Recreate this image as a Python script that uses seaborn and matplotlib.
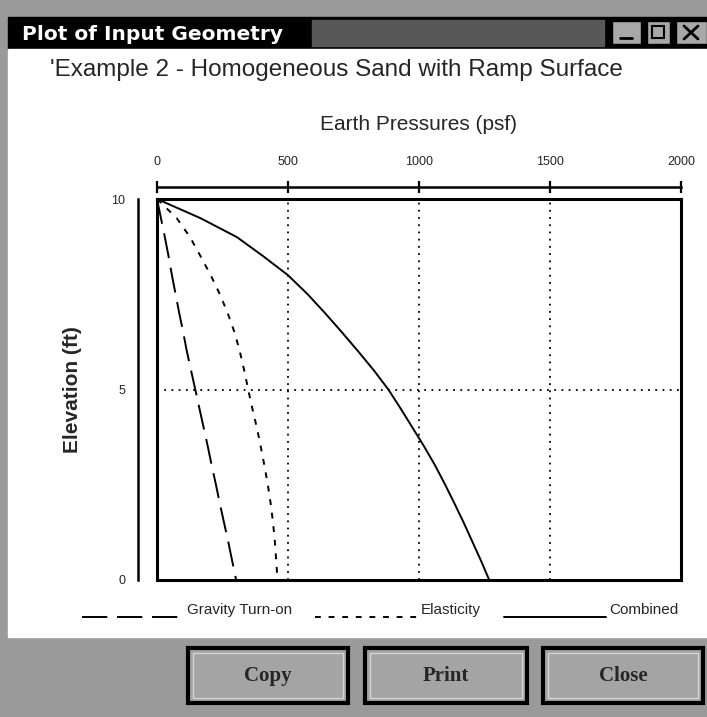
import pandas as pd
import matplotlib.pyplot as plt
from matplotlib.patches import Rectangle
import seaborn as sns

# values: elevation (ft) vs earth pressure (psf)
elevation = [10, 9.5, 9, 8.5, 8, 7.5, 7, 6.5, 6, 5.5, 5, 4.5, 4, 3.5, 3, 2.5, 2, 1.5, 1, 0.5, 0]
gravity = [0, 15, 30, 44, 57, 71, 85, 100, 114, 130, 146, 162, 178, 194, 209, 225, 240, 256, 272, 287, 302]
elasticity = [0, 75, 126, 166, 205, 240, 270, 296, 316, 333, 348, 364, 381, 396, 410, 423, 434, 443, 450, 455, 460]
combined = [0, 165, 305, 405, 500, 575, 642, 706, 768, 828, 883, 930, 975, 1020, 1062, 1100, 1136, 1171, 1204, 1237, 1268]
series_names = ['Gravity Turn-on', 'Elasticity', 'Combined']
x_ticks = [0, 500, 1000, 1500, 2000]
y_ticks = [0, 5, 10]
grid_x = [500, 1000, 1500]
grid_y = [5]
button_names = ['Copy', 'Print', 'Close']

sns.set_style('white')
plt.rcParams['font.family'] = ['Liberation Sans', 'DejaVu Sans']

W, H = 707, 717
fig = plt.figure(figsize=(W / 100, H / 100), dpi=100)


def box(l, t, r, b):
    return [l / W, 1 - b / H, (r - l) / W, (b - t) / H]


# window frame, drawn in pixel coordinates
bg = fig.add_axes([0, 0, 1, 1])
bg.set_xlim(0, W)
bg.set_ylim(H, 0)
bg.axis('off')
bg.add_patch(Rectangle((0, 0), W, H, color='#9a9a9a'))
bg.add_patch(Rectangle((8, 17), W - 8, 32, color='black'))
bg.add_patch(Rectangle((312, 20), 292, 26, color='#585858'))
bg.add_patch(Rectangle((8, 49), W - 8, 588, color='white'))
bg.text(22, 34, 'Plot of Input Geometry', color='white', fontsize=14.5,
        fontweight='bold', family='DejaVu Sans', va='center')

# title bar controls
for l, r in [(612, 641), (647, 670), (676, 707)]:
    bg.add_patch(Rectangle((l, 21), r - l, 23, facecolor='#a8a8a8', edgecolor='black', lw=1))
bg.plot([620, 632], [38, 38], color='black', lw=2)
bg.add_patch(Rectangle((652, 26), 12, 12, fill=False, edgecolor='black', lw=1.5))
bg.plot([684, 698], [26, 39], color='black', lw=2)
bg.plot([684, 698], [39, 26], color='black', lw=2)

# buttons
for name, (l, r) in zip(button_names, [(188, 348), (365, 527), (543, 703)]):
    bg.add_patch(Rectangle((l, 648), r - l, 55, facecolor='#a4a4a4', edgecolor='black', lw=3))
    bg.add_patch(Rectangle((l + 5, 653), r - l - 10, 45, fill=False, edgecolor='#d4d4d4', lw=1))
    bg.text((l + r) / 2, 676, name, fontsize=15, fontweight='bold', family='Liberation Serif',
            ha='center', va='center')

bg.text(50, 76, "'Example 2 - Homogeneous Sand with Ramp Surface", fontsize=17.5, va='baseline')
bg.text(419, 124, 'Earth Pressures (psf)', fontsize=15, ha='center', va='center')
bg.text(72, 390, 'Elevation (ft)', fontsize=15, fontweight='bold', rotation=90,
        ha='center', va='center')

# main plot box
ax = fig.add_axes(box(157, 199, 681, 580))
styles = [(0, (13, 5)), (0, (3, 4)), '-']
for name, vals in zip(series_names, [gravity, elasticity, combined]):
    df = pd.DataFrame({'pressure': vals, 'elevation': elevation})
    sns.lineplot(data=df, x='pressure', y='elevation', ax=ax, color='black', lw=1.4,
                 sort=False, estimator=None, legend=False)
curves = ax.lines[:3]
for line, name, ls in zip(curves, series_names, styles):
    line.set_linestyle(ls)
    line.set_label(name)
if ax.get_legend() is not None:
    ax.get_legend().remove()
ax.set_xlim(0, 2000)
ax.set_ylim(0, 10)
ax.set_xlabel('')
ax.set_ylabel('')
ax.set_xticks(grid_x)
ax.set_yticks(grid_y)
ax.tick_params(length=0, labelbottom=False, labelleft=False)
ax.grid(True, color='black', linestyle=(0, (1, 3)), lw=1.3)
for s in ax.spines.values():
    s.set_visible(True)
    s.set_color('black')
    s.set_linewidth(2.2)

# separate scale along the top
axt = fig.add_axes(box(157, 187, 681, 187.01))
axt.set_xlim(0, 2000)
axt.set_xticks(x_ticks)
axt.set_xticklabels([str(v) for v in x_ticks])
axt.xaxis.tick_top()
axt.set_yticks([])
axt.patch.set_visible(False)
for k, s in axt.spines.items():
    s.set_visible(k == 'top')
axt.spines['top'].set_color('black')
axt.spines['top'].set_linewidth(1.8)
axt.tick_params(axis='x', direction='inout', length=8, width=1.6, labelsize=9, pad=10, color='black')

# separate scale along the left
axl = fig.add_axes(box(138, 199, 138.01, 580))
axl.set_ylim(0, 10)
axl.set_yticks(y_ticks)
axl.set_yticklabels([str(v) for v in y_ticks])
axl.set_xticks([])
axl.patch.set_visible(False)
for k, s in axl.spines.items():
    s.set_visible(k == 'left')
axl.spines['left'].set_color('black')
axl.spines['left'].set_linewidth(1.8)
axl.tick_params(axis='y', direction='inout', length=8, width=1.6, labelsize=9, pad=5, color='black')

# legend strip under the plot
leg = fig.legend(handles=curves, labels=[n + '\n' for n in series_names],
                 loc='center left', bbox_to_anchor=(82 / W, 1 - 617 / H), ncol=3,
                 frameon=False, fontsize=11, handlelength=6.7, handletextpad=0.2,
                 columnspacing=1.5, borderpad=0, borderaxespad=0)
for t in leg.get_texts():
    t.set_linespacing(1.0)

fig.savefig('out.png', dpi=100)
